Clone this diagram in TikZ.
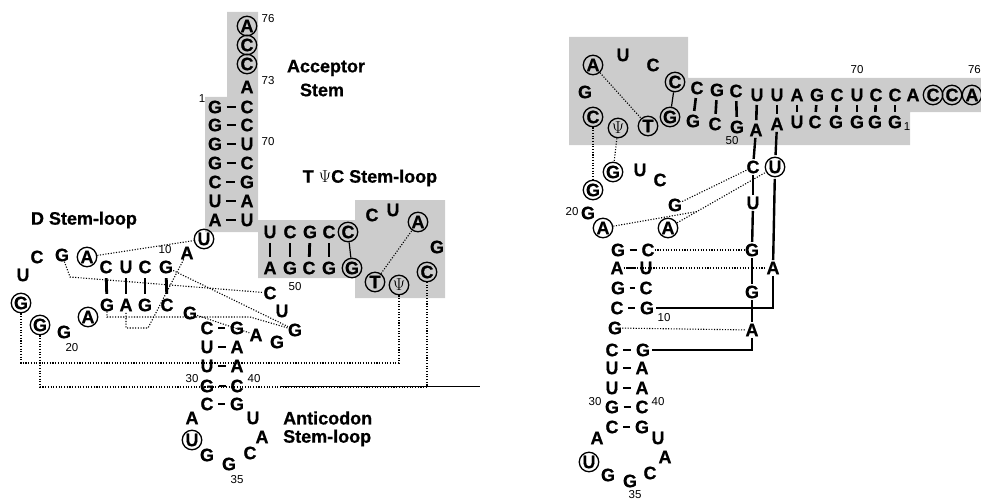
\documentclass[tikz,border=0pt]{standalone}
\usepackage{fontspec}
\setmainfont{Liberation Sans}[BoldFeatures={FakeBold=0.7}]
\usetikzlibrary{calc}
\begin{document}
\begin{tikzpicture}[x=1pt,y=-1pt,
  every node/.style={inner sep=0pt,font=\bfseries\fontsize{18}{18}\selectfont},
  cn/.style={circle,draw,line width=1.3pt,minimum size=19.5pt},
  num/.style={font=\fontsize{11.5}{11.5}\selectfont},
  lbl/.style={font=\bfseries\fontsize{18}{18}\selectfont},
  pr/.style={line width=2.8pt,shorten <=4.5pt,shorten >=4.5pt},
  prs/.style={line width=2.6pt,shorten <=3.5pt,shorten >=3.5pt},
  dt/.style={line width=1.1pt,dash pattern=on 1.1pt off 1.6pt},
  bb/.style={line width=2.4pt,shorten <=1.5pt,shorten >=1.5pt},
  shd/.style={fill=black!20}]
\useasboundingbox (0,0) rectangle (981,500);
% shaded regions
\fill[shd] (227,12) -- (258,12) -- (258,232) -- (205,232) -- (205,97) -- (227,97) -- cycle;
\fill[shd] (258,220) -- (355,220) -- (355,200) -- (445,200) -- (445,298) -- (355,298) -- (355,278) -- (258,278) -- cycle;
\fill[shd] (569,37) -- (688,37) -- (688,78) -- (981,78) -- (981,112) -- (910,112) -- (910,145) -- (569,145) -- cycle;

% ---- left: cloverleaf ----
% acceptor stem
\node[cn] (a76) at (247,26) {A};
\node[cn] (c75) at (247,45) {C};
\node[cn] (c74) at (247,64) {C};
\node (a73) at (247,87) {A};
\node (g1) at (215,107) {G}; \node (c72) at (247,107) {C};
\node (g2) at (215,125) {G}; \node (c71) at (247,125) {C};
\node (g3) at (215,144) {G}; \node (u70) at (247,144) {U};
\node (g4) at (215,163) {G}; \node (c69) at (247,163) {C};
\node (c5) at (215,182) {C}; \node (g68) at (247,182) {G};
\node (u6) at (215,201) {U}; \node (a67) at (247,201) {A};
\node (a7) at (215,220) {A}; \node (u66) at (247,220) {U};
\node[num] (n1) at (202,99) {1};
\node[num] (n76) at (268,19) {76};
\node[num] (n73) at (268,81) {73};
\node[num] (n70) at (268,142) {70};
\node[lbl] (lacc) at (326,68) {Acceptor};
\node[lbl] (lstem) at (322,90) {Stem};
% D stem-loop
\node[cn] (u8) at (204,239) {U};
\node (a9) at (187,253) {A};
\node[num] (n10) at (165,250) {10};
\node (g10) at (166,267) {G};
\node (c11) at (145,267) {C};
\node (u12) at (126,267) {U};
\node (c13) at (106,267) {C};
\node[cn] (a14) at (87,257) {A};
\node (g15) at (62,255) {G};
\node (c16) at (37,257) {C};
\node (u17) at (23,275) {U};
\node[cn] (g18) at (21,303) {G};
\node[cn] (g19) at (40,325) {G};
\node (g20) at (64,332) {G};
\node[num] (n20) at (72,348) {20};
\node[cn] (a21) at (88,317) {A};
\node (g22) at (107,305) {G};
\node (a23) at (126,305) {A};
\node (g24) at (145,305) {G};
\node (c25) at (167,305) {C};
\node (g26) at (190,313) {G};
\node[lbl] (ld) at (84,220) {D Stem-loop};
% anticodon stem-loop
\node (c27) at (207,328) {C}; \node (g43) at (237,328) {G};
\node (u28) at (207,347) {U}; \node (a42) at (237,347) {A};
\node (u29) at (207,366) {U}; \node (a41) at (237,366) {A};
\node (g30) at (207,386) {G}; \node (c40) at (237,386) {C};
\node (c31) at (207,404) {C}; \node (g39) at (237,404) {G};
\node[num] (n30) at (192,379) {30};
\node[num] (n40) at (254,379) {40};
\node (a32) at (192,418) {A};
\node[cn] (u33) at (192,440) {U};
\node (g34) at (207,455) {G};
\node (g35) at (229,464) {G};
\node[num] (n35) at (237,480) {35};
\node (c36) at (250,453) {C};
\node (a37) at (262,437) {A};
\node (u38) at (253,418) {U};
\node[lbl,anchor=west] (lanti) at (283,418) {Anticodon};
\node[lbl,anchor=west] (lsl) at (283,438) {Stem-loop};
% variable loop
\node (a44) at (256,335) {A};
\node (g45) at (277,342) {G};
\node (g46) at (295,330) {G};
\node (u47) at (282,311) {U};
\node (c48) at (270,293) {C};
% T-psi-C stem-loop
\node (a49) at (270,268) {A}; \node (u65) at (270,232) {U};
\node (g50) at (290,268) {G}; \node (c64) at (290,232) {C};
\node (c51) at (309,268) {C}; \node (g63) at (310,232) {G};
\node (g52) at (329,268) {G}; \node (c62) at (329,232) {C};
\node[cn] (g53) at (352,268) {G}; \node[cn] (c61) at (348,232) {C};
\node[num] (n50) at (295,287) {50};
\node[cn] (t54) at (375,282) {T};
\node[cn] (p55) at (399,285) {$\Psi$};
\node[cn] (c56) at (427,272) {C};
\node (g57) at (437,247) {G};
\node[cn] (a58) at (418,222) {A};
\node (u59) at (393,210) {U};
\node (c60) at (372,215) {C};
\node[lbl] (ltpc) at (370,178) {T $\Psi$C Stem-loop};
% base pairs
\draw[pr] (g1) -- (c72); \draw[pr] (g2) -- (c71); \draw[pr] (g3) -- (u70);
\draw[pr] (g4) -- (c69); \draw[pr] (c5) -- (g68); \draw[pr] (u6) -- (a67);
\draw[pr] (a7) -- (u66);
\draw[pr] (c13) -- (g22); \draw[pr] (u12) -- (a23); \draw[pr] (c11) -- (g24);
\draw[pr] (g10) -- (c25);
\draw[pr] (c27) -- (g43); \draw[pr] (u28) -- (a42); \draw[pr] (u29) -- (a41);
\draw[pr] (g30) -- (c40); \draw[pr] (c31) -- (g39);
\draw[pr] (u65) -- (a49); \draw[pr] (c64) -- (g50); \draw[pr] (g63) -- (c51);
\draw[pr] (c62) -- (g52);
\draw[line width=1.2pt] (c61) -- (g53);
% tertiary interactions
\draw[dt] (a14) -- (u8);
\draw[dt] (g15) -- (70,277) -- (c48);
\draw[dt] (g10) -- (g46);
\draw[dt] (a9) -- (148,328) -- (126,328) -- (a23);
\draw[dt] (g22) -- (107,317) -- (250,317) -- (g46);
\draw[dt] (g26) -- (a44);
\draw[dt] (g18) -- (21,363) -| (p55);
\draw[dt] (g19) -- (40,387) -| (c56);
\draw[dt] (t54) -- (a58);
\draw[line width=0.8pt] (280,386) -- (480,386);

% ---- right: L-shape ----
% acceptor / T stem
\node[cn] (rc61) at (675,82) {C};
\node (rc62) at (697,88) {C}; \node (rg52) at (693,121) {G};
\node (rg63) at (717,90) {G}; \node (rc51) at (715,124) {C};
\node (rc64) at (736,91) {C}; \node (rg50) at (737,127) {G};
\node (ru65) at (757,95) {U}; \node (ra49) at (756,130) {A};
\node (ru66) at (777,95) {U}; \node (ra7) at (777,124) {A};
\node (ra67) at (797,95) {A}; \node (ru6) at (797,122) {U};
\node (rg68) at (817,95) {G}; \node (rc5) at (815,122) {C};
\node (rc69) at (837,95) {C}; \node (rg4) at (836,122) {G};
\node (ru70) at (857,95) {U}; \node (rg3) at (857,122) {G};
\node (rc71) at (876,95) {C}; \node (rg2) at (875,122) {G};
\node (rc72) at (895,95) {C}; \node (rg1) at (895,122) {G};
\node (ra73) at (913,95) {A};
\node[cn] (rc74) at (933,95) {C};
\node[cn] (rc75) at (952,95) {C};
\node[cn] (ra76) at (972,95) {A};
\node[cn] (rg53) at (670,117) {G};
\node[num] (rn70) at (857,70) {70};
\node[num,anchor=east] (rn76) at (981,70) {76};
\node[num] (rn1) at (907,127) {1};
\node[num] (rn50) at (732,141) {50};
% T loop
\node (rc60) at (653,65) {C};
\node (ru59) at (623,55) {U};
\node[cn] (ra58) at (593,65) {A};
\node (rg57) at (585,92) {G};
\node[cn] (rc56) at (593,117) {C};
\node[cn] (rp55) at (618,128) {$\Psi$};
\node[cn] (rt54) at (648,126) {T};
% D loop
\node[cn] (rg18) at (613,172) {G};
\node (ru17) at (640,170) {U};
\node (rc16) at (660,180) {C};
\node[cn] (rg19) at (593,190) {G};
\node (rg20) at (588,213) {G};
\node[num] (rn20) at (572,212) {20};
\node[cn] (ra21) at (603,228) {A};
\node (rg15) at (675,205) {G};
\node[cn] (ra14) at (668,228) {A};
% D stem
\node (rg22) at (618,250) {G}; \node (rc13) at (648,250) {C};
\node (ra23) at (617,268) {A}; \node (ru12) at (646,268) {U};
\node (rg24) at (618,288) {G}; \node (rc11) at (646,288) {C};
\node (rc25) at (617,308) {C}; \node (rg10) at (647,308) {G};
\node[num] (rn10) at (664,318) {10};
\node (rg26) at (615,328) {G};
% variable loop / U8 A9
\node (rc48) at (753,167) {C};
\node[cn] (ru8) at (775,167) {U};
\node (ru47) at (753,203) {U};
\node (rg46) at (752,250) {G};
\node (ra9) at (773,268) {A};
\node (rg45) at (752,292) {G};
\node (ra44) at (752,330) {A};
% anticodon
\node (rc27) at (612,350) {C}; \node (rg43) at (643,350) {G};
\node (ru28) at (612,368) {U}; \node (ra42) at (642,368) {A};
\node (ru29) at (612,388) {U}; \node (ra41) at (642,388) {A};
\node (rg30) at (612,407) {G}; \node (rc40) at (642,407) {C};
\node (rc31) at (612,427) {C}; \node (rg39) at (642,427) {G};
\node[num] (rn30) at (595,402) {30};
\node[num] (rn40) at (658,402) {40};
\node (ra32) at (597,438) {A};
\node[cn] (ru33) at (589,462) {U};
\node (rg34) at (608,475) {G};
\node (rg35) at (630,481) {G};
\node[num] (rn35) at (635,495) {35};
\node (rc36) at (650,473) {C};
\node (ra37) at (665,457) {A};
\node (ru38) at (658,438) {U};
% base pairs
\draw[line width=1.2pt] (rc61) -- (rg53);
\draw[prs] (rc62) -- (rg52); \draw[prs] (rg63) -- (rc51); \draw[prs] (rc64) -- (rg50);
\draw[prs] (ru65) -- (ra49); \draw[prs] (ru66) -- (ra7); \draw[prs] (ra67) -- (ru6);
\draw[prs] (rg68) -- (rc5); \draw[prs] (rc69) -- (rg4); \draw[prs] (ru70) -- (rg3);
\draw[prs] (rc71) -- (rg2); \draw[prs] (rc72) -- (rg1);
\draw[pr] (rg22) -- (rc13); \draw[pr] (ra23) -- (ru12); \draw[pr] (rg24) -- (rc11);
\draw[pr] (rc25) -- (rg10);
\draw[pr] (rc27) -- (rg43); \draw[pr] (ru28) -- (ra42); \draw[pr] (ru29) -- (ra41);
\draw[pr] (rg30) -- (rc40); \draw[pr] (rc31) -- (rg39);
% backbone
\draw[bb] (ra7) -- (ru8);
\draw[bb] (ru8) -- (ra9);
\draw[bb] (ra9) |- (rg10);
\draw[bb] (ra49) -- (rc48);
\draw[bb] (rc48) -- (ru47);
\draw[bb] (ru47) -- (rg46);
\draw[bb] (rg46) -- (rg45);
\draw[bb] (rg45) -- (ra44);
\draw[bb] (ra44) |- (rg43);
% tertiary interactions
\draw[dt] (ra58) -- (rt54);
\draw[dt] (rc56) -- (rg19);
\draw[dt] (rp55) -- (rg18);
\draw[dt] (rg15) -- (rc48);
\draw[dt] (ra14) -- (ru8);
\coordinate (rx) at ($(ra14)!0.27!(ru8)$);
\draw[dt] (ra21) -- (rx);
\draw[dt] (rc13) -- (rg46);
\draw[dt] (ra23) -- (ra9);
\draw[dt] (rg26) -- (ra44);
\end{tikzpicture}
\end{document}
